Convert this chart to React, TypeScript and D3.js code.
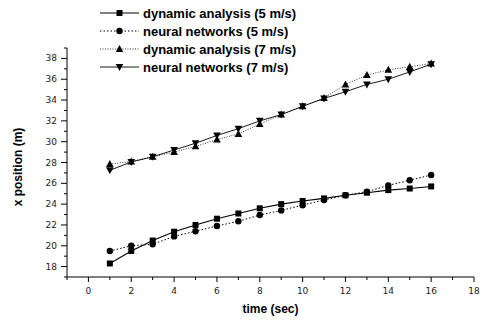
import React from "react";
import * as d3 from "d3";

const times = [1, 2, 3, 4, 5, 6, 7, 8, 9, 10, 11, 12, 13, 14, 15, 16];
const da5 = [18.3, 19.5, 20.5, 21.35, 22.0, 22.6, 23.1, 23.6, 24.0, 24.3, 24.55, 24.85, 25.1, 25.35, 25.5, 25.7];
const nn5 = [19.5, 20.0, 20.15, 20.9, 21.4, 21.9, 22.35, 22.95, 23.4, 23.9, 24.4, 24.85, 25.2, 25.8, 26.3, 26.8];
const da7 = [27.85, 28.1, 28.55, 29.0, 29.55, 30.2, 30.75, 31.7, 32.6, 33.4, 34.2, 35.5, 36.4, 36.9, 37.2, 37.5];
const nn7 = [27.25, 28.05, 28.55, 29.2, 29.85, 30.6, 31.25, 32.0, 32.6, 33.4, 34.15, 34.8, 35.5, 36.0, 36.7, 37.45];
const xTicks = [0, 2, 4, 6, 8, 10, 12, 14, 16, 18];
const yTicks = [18, 20, 22, 24, 26, 28, 30, 32, 34, 36, 38];
const legendLabels = [
  "dynamic analysis (5 m/s)",
  "neural networks (5 m/s)",
  "dynamic analysis (7 m/s)",
  "neural networks (7 m/s)",
];

const W = 487;
const H = 320;
const left = 67;
const right = 474;
const top = 48;
const bottom = 277;

const x = d3.scaleLinear().domain([-1, 18]).range([left, right]);
const y = d3.scaleLinear().domain([17, 39]).range([bottom, top]);

type Shape = "square" | "circle" | "up" | "down";

function Marker({ cx, cy, shape }: { cx: number; cy: number; shape: Shape }) {
  if (shape === "square") return <rect x={cx - 3} y={cy - 3} width={6} height={6} fill="#000" />;
  if (shape === "circle") return <circle cx={cx} cy={cy} r={3.2} fill="#000" />;
  if (shape === "up")
    return <path d={`M${cx},${cy - 4}L${cx + 3.8},${cy + 3}L${cx - 3.8},${cy + 3}Z`} fill="#000" />;
  return <path d={`M${cx},${cy + 4}L${cx + 3.8},${cy - 3}L${cx - 3.8},${cy - 3}Z`} fill="#000" />;
}

const series: { vals: number[]; shape: Shape; dash: string; sw: number }[] = [
  { vals: da5, shape: "square", dash: "", sw: 1.1 },
  { vals: nn5, shape: "circle", dash: "1.5,2", sw: 1 },
  { vals: da7, shape: "up", dash: "1,1.5", sw: 0.8 },
  { vals: nn7, shape: "down", dash: "", sw: 0.9 },
];

export default function App() {
  const line = d3
    .line<[number, number]>()
    .x((d) => x(d[0]))
    .y((d) => y(d[1]));
  const xMinor = d3.range(-1, 19, 1).filter((v) => !xTicks.includes(v));
  const yMinor = d3.range(17, 40, 1).filter((v) => !yTicks.includes(v));
  return (
    <svg width={W} height={H} style={{ position: "absolute", left: 0, top: 0, background: "#fff" }}>
      {/* axes */}
      <line x1={left} x2={left} y1={top} y2={bottom} stroke="#000" strokeWidth={1} />
      <line x1={left} x2={right} y1={bottom} y2={bottom} stroke="#000" strokeWidth={1} />
      {yTicks.map((v) => (
        <g key={"yt" + v}>
          <line x1={left - 6} x2={left} y1={y(v)} y2={y(v)} stroke="#000" />
          <text x={left - 10} y={y(v) + 3} fontSize={9} textAnchor="end" fontFamily="DejaVu Sans" fill="#222">
            {v}
          </text>
        </g>
      ))}
      {yMinor.map((v) => (
        <line key={"ym" + v} x1={left - 3} x2={left} y1={y(v)} y2={y(v)} stroke="#000" />
      ))}
      {xTicks.map((v) => (
        <g key={"xt" + v}>
          <line x1={x(v)} x2={x(v)} y1={bottom} y2={bottom + 5} stroke="#000" />
          <text x={x(v)} y={bottom + 17} fontSize={9} textAnchor="middle" fontFamily="DejaVu Sans" fill="#222">
            {v}
          </text>
        </g>
      ))}
      {xMinor.map((v) => (
        <line key={"xm" + v} x1={x(v)} x2={x(v)} y1={bottom} y2={bottom + 3} stroke="#000" />
      ))}
      <text
        x={x(8.5)}
        y={313}
        fontSize={12}
        fontWeight="bold"
        textAnchor="middle"
        fontFamily="Liberation Sans, Arial, sans-serif"
      >
        time (sec)
      </text>
      <text
        transform={`translate(22,167) rotate(-90)`}
        fontSize={12}
        fontWeight="bold"
        textAnchor="middle"
        fontFamily="Liberation Sans, Arial, sans-serif"
      >
        x position (m)
      </text>
      {/* series */}
      {series.map((s, i) => (
        <g key={"s" + i}>
          <path
            d={line(times.map((t, j) => [t, s.vals[j]] as [number, number])) || ""}
            fill="none"
            stroke="#000"
            strokeWidth={s.sw}
            strokeDasharray={s.dash || undefined}
          />
          {times.map((t, j) => (
            <Marker key={j} cx={x(t)} cy={y(s.vals[j])} shape={s.shape} />
          ))}
        </g>
      ))}
      {/* legend */}
      {series.map((s, i) => {
        const ly = 13 + i * 18;
        return (
          <g key={"l" + i}>
            <line
              x1={100}
              x2={139}
              y1={ly}
              y2={ly}
              stroke="#000"
              strokeWidth={s.sw}
              strokeDasharray={s.dash || undefined}
            />
            <Marker cx={119.5} cy={ly} shape={s.shape} />
            <text
              x={143}
              y={ly + 4.5}
              fontSize={13}
              fontWeight="bold"
              fontFamily="Liberation Sans, Arial, sans-serif"
            >
              {legendLabels[i]}
            </text>
          </g>
        );
      })}
    </svg>
  );
}
